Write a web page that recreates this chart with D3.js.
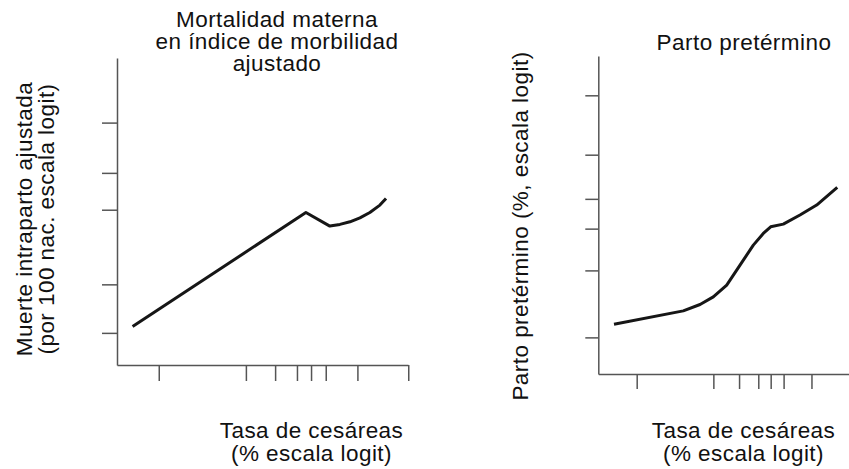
<html>
<head>
<title>Tasa de cesareas - logit</title>
<script src="https://cdn.jsdelivr.net/npm/d3@7"></script>
<style>
body {
	margin: 0;
	background: #fff;
}
text {
	font-family: "Liberation Sans", Arial, Helvetica, sans-serif;
	font-size: 22.5px;
	letter-spacing: 0.45px;
	fill: #111;
}
</style>
</head>
<body>
	<svg id="chart" width="849" height="469"></svg>
<script>
	// x ticks (tasa de cesareas, %), shared by both panels - no labels in the original
	var cesTicks = [ 2.6, 10, 15.2, 20.4, 24.4, 29.1, 40.8, 61.3 ];

	// panel 1: muerte intraparto ajustada (por 100 nac.)
	var muerteTicks = [ 0.05, 0.1, 0.29, 0.49, 1 ];
	var muerteCes = [ 1.71, 22.88, 30.5, 34.1, 37.9, 41.8, 45.8, 49.9, 52.4 ];
	var muerteVal = [ 0.0547, 0.2789, 0.2296, 0.2352, 0.2441, 0.2583, 0.2789, 0.3097, 0.3408 ];

	// panel 2: parto pretermino (%)
	var pretTicks = [ 5, 7.6, 9.8, 11.7, 15.1, 20.9 ];
	var pretCes = [ 1.72, 5.97, 7.98, 9.99, 12.47, 15.43, 18.94, 21.95, 24.4, 28.98, 35.76, 43.16, 52.69 ];
	var pretVal = [ 5.43, 5.91, 6.15, 6.45, 6.94, 7.85, 8.87, 9.52, 9.91, 10.07, 10.63, 11.28, 12.52 ];

	function logit(pct) {
		var p = pct / 100;
		return Math.log(p / (1 - p));
	}

	var svg = d3.select("#chart");

	function panel(opt) {
		var x = d3.scaleLinear().domain([ logit(opt.xDom[0]), logit(opt.xDom[1]) ]).range(opt.xRange);
		var y = d3.scaleLinear().domain([ logit(opt.yDom[0]), logit(opt.yDom[1]) ]).range(opt.yRange);
		var g = svg.append("g");

		var xAxis = d3.axisBottom(x).tickValues(cesTicks.map(logit))
				.tickSize(opt.xTick).tickSizeOuter(0).tickFormat("");
		var yAxis = d3.axisLeft(y).tickValues(opt.yTicks.map(logit))
				.tickSize(opt.yTick).tickSizeOuter(0).tickFormat("");
		g.append("g").attr("transform", "translate(0," + opt.yRange[0] + ")").call(xAxis);
		g.append("g").attr("transform", "translate(" + opt.xRange[0] + ",0)").call(yAxis);
		g.selectAll(".domain, .tick line").attr("stroke", "#555").attr("stroke-width", 1.5);

		var pts = opt.ces.map(function(c, i) {
			return [ c, opt.val[i] ];
		});
		var line = d3.line().x(function(d) {
			return x(logit(d[0]));
		}).y(function(d) {
			return y(logit(d[1]));
		});
		g.append("path").datum(pts).attr("d", line).attr("fill", "none")
				.attr("stroke", "#161616").attr("stroke-width", 3)
				.attr("stroke-linejoin", "round");

		// titles and labels
		opt.title.forEach(function(t, i) {
			g.append("text").attr("x", opt.titleX).attr("y", opt.titleY + i * 22)
					.attr("text-anchor", "middle").text(t);
		});
		opt.ylab.forEach(function(t, i) {
			g.append("text").attr("transform", "translate(" + (opt.ylabX + i * 22) + "," + opt.ylabY + ") rotate(-90)")
					.attr("text-anchor", "middle").text(t);
		});
		[ "Tasa de cesáreas", "(% escala logit)" ].forEach(function(t, i) {
			g.append("text").attr("x", opt.xlabX).attr("y", 438 + i * 22.5)
					.attr("text-anchor", "middle").text(t);
		});
	}

	panel({
		xDom : [ 1.33, 61.2 ], xRange : [ 117, 408 ],
		yDom : [ 0.0316, 2.48 ], yRange : [ 365, 58 ],
		xTick : 16, yTick : 15,
		yTicks : muerteTicks, ces : muerteCes, val : muerteVal,
		title : [ "Mortalidad materna", "en índice de morbilidad", "ajustado" ],
		titleX : 277, titleY : 27,
		ylab : [ "Muerte intraparto ajustada", "(por 100 nac. escala logit)" ],
		ylabX : 31.5, ylabY : 219,
		xlabX : 311.5
	});

	panel({
		xDom : [ 1.29, 61.3 ], xRange : [ 598.3, 856.2 ],
		yDom : [ 3.96, 25.56 ], yRange : [ 374, 56 ],
		xTick : 15, yTick : 13,
		yTicks : pretTicks, ces : pretCes, val : pretVal,
		title : [ "Parto pretérmino" ],
		titleX : 744, titleY : 50,
		ylab : [ "Parto pretérmino (%, escala logit)" ],
		ylabX : 527.5, ylabY : 226,
		xlabX : 743.5
	});
</script>
</body>
</html>
